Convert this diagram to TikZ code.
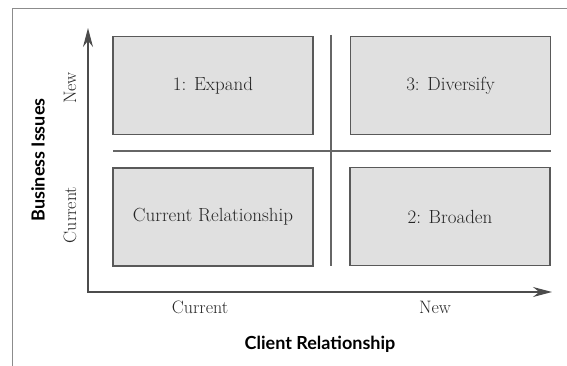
\documentclass[tikz,border=0pt]{standalone}
\usepackage{fontspec}
\newfontfamily\titlefont{Lato}
\usetikzlibrary{arrows.meta}

\begin{document}
\begin{tikzpicture}[x=1pt, y=-1pt,
  cell/.style={draw=black!65, fill=black!12, line width=1.3pt, inner sep=0pt,
    minimum width=200pt, minimum height=98pt, text=black!85,
    font=\fontsize{19}{22}\selectfont},
  divider/.style={draw=black!60, line width=1.3pt},
  axis/.style={draw=black!70, line width=1.3pt, {Stealth[length=19pt, width=10pt]}-{Stealth[length=19pt, width=10pt]}},
  tick/.style={text=black!85, font=\fontsize{18}{21}\selectfont},
  axistitle/.style={font=\titlefont\bfseries\fontsize{18}{21}\selectfont}]
  \useasboundingbox (0,0) rectangle (567,366);

  % Page frame
  \draw[black!45, line width=1pt] (567,9) -- (12,9) -- (12,366);

  % Quadrants
  \node[cell] (expand)    at (213,85.5)  {1: Expand};
  \node[cell] (diversify) at (450.5,85.5) {3: Diversify};
  \node[cell] (current)   at (213,217)   {Current Relationship};
  \node[cell] (broaden)   at (450,216.5) {2: Broaden};

  % Dividers
  \coordinate (vtop) at (331,35);
  \coordinate (vbot) at (331,266);
  \coordinate (hleft) at (113,151);
  \coordinate (hright) at (551,151);
  \draw[divider] (vtop) -- (vbot);
  \draw[divider] (hleft) -- (hright);

  % Axes
  \coordinate (origin) at (88,292);
  \coordinate (ytip) at (88,28);
  \coordinate (xtip) at (552,292);
  \draw[axis] (ytip) -- (origin) -- (xtip);

  % Axis ticks
  \node[tick, rotate=90] (ynew) at (70,88) {New};
  \node[tick, rotate=90] (ycur) at (70,215) {Current};
  \node[tick] (xcur) at (200,307) {Current};
  \node[tick] (xnew) at (435,307) {New};

  % Axis titles
  \node[axistitle, rotate=90] (ytitle) at (38,160) {Business Issues};
  \node[axistitle] (xtitle) at (320,344) {Client Relationship};
\end{tikzpicture}
\end{document}
